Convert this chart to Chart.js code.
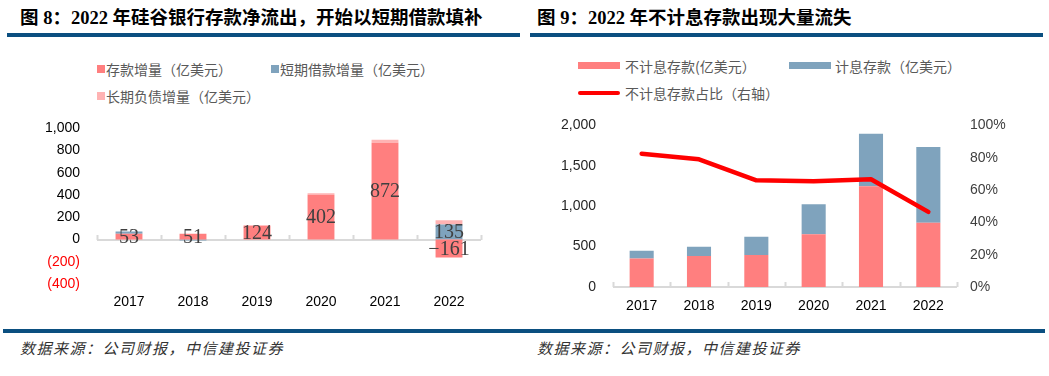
<!DOCTYPE html>
<html>
<head>
<meta charset="utf-8">
<script src="https://cdn.jsdelivr.net/npm/chart.js@4.4.0/dist/chart.umd.min.js"></script>
<style>
  body { margin: 0; width: 1049px; height: 376px; background: #fff; position: relative; overflow: hidden; font-family: "Noto Sans CJK SC", sans-serif; }
  .title { position: absolute; top: 8px; line-height: 20px; font-weight: bold; font-size: 18.5px; font-family: "Liberation Serif", "Noto Sans CJK SC", serif; color: #000; white-space: nowrap; }
  .rule { position: absolute; background: #0b4f80; height: 4px; }
  .src { position: absolute; top: 339px; line-height: 18px; font-style: italic; font-size: 15px; color: #333; white-space: nowrap; letter-spacing: 1.5px; }
  .leg { position: absolute; font-size: 14px; line-height: 16px; color: #595959; white-space: nowrap; }
  .mk { position: absolute; }
  .wrap { position: absolute; }
</style>
</head>
<body>

<div class="title" style="left:20px;">图 8：2022 年硅谷银行存款净流出，开始以短期借款填补</div>
<div class="title" style="left:537px;">图 9：2022 年不计息存款出现大量流失</div>
<div class="rule" style="left:7px; width:513px; top:33px;"></div>
<div class="rule" style="left:530px; width:513px; top:33px;"></div>

<!-- 左图图例 -->
<div class="mk" style="left:97px; top:65px; width:8px; height:8px; background:#ff7f7f;"></div>
<div class="leg" style="left:106px; top:61px;">存款增量（亿美元）</div>
<div class="mk" style="left:271px; top:65px; width:8px; height:8px; background:#7fa3bd;"></div>
<div class="leg" style="left:280px; top:61px;">短期借款增量（亿美元）</div>
<div class="mk" style="left:97px; top:92px; width:8px; height:8px; background:#ffb3b3;"></div>
<div class="leg" style="left:106px; top:88px;">长期负债增量（亿美元）</div>

<!-- 右图图例 -->
<div class="mk" style="left:578px; top:62px; width:42px; height:7px; background:#ff7f7f;"></div>
<div class="leg" style="left:625px; top:58px;">不计息存款(亿美元）</div>
<div class="mk" style="left:789px; top:62px; width:42px; height:7px; background:#7fa3bd;"></div>
<div class="leg" style="left:835px; top:58px;">计息存款（亿美元）</div>
<div class="mk" style="left:578px; top:91px; width:42px; height:4px; background:#ff0000; border-radius:2px;"></div>
<div class="leg" style="left:625px; top:85px;">不计息存款占比（右轴）</div>

<div class="wrap" style="left:0px; top:103px; width:500px; height:215px;"><canvas id="left"></canvas></div>
<div class="wrap" style="left:530px; top:100px; width:519px; height:221px;"><canvas id="right"></canvas></div>

<div class="rule" style="left:3px; width:1042px; top:329px; height:4px;"></div>
<div class="src" style="left:20px;">数据来源：公司财报，中信建投证券</div>
<div class="src" style="left:537px;">数据来源：公司财报，中信建投证券</div>

<script>
// 数据
const years = ['2017', '2018', '2019', '2020', '2021', '2022'];

// 图8 (亿美元)
const depositChange = [53, 51, 124, 402, 872, -161];
const shortBorrowChange = [20, -8, 0, 0, 0, 135];
const longDebtChange = [0, 0, 5, 15, 25, 38];
const leftTicks = [1000, 800, 600, 400, 200, 0, -200, -400];

// 图9 (亿美元 / %)
const nonInterestDeposits = [354, 383, 395, 654, 1247, 794];
const interestDeposits = [94, 115, 226, 371, 650, 938];
const nonInterestShare = [82.5, 79, 66, 65.4, 66.7, 46.5];

const tickFont = { family: 'Liberation Sans, Arial, sans-serif', size: 14 };

// 零轴线 + 向上的小刻度
const zeroAxis = {
    id: 'zeroAxis',
    beforeDatasetsDraw(chart) {
        const { ctx, chartArea, scales } = chart;
        const y = Math.round(scales.y.getPixelForValue(0));
        ctx.save();
        ctx.strokeStyle = '#d9d9d9';
        ctx.lineWidth = 2;
        ctx.beginPath();
        ctx.moveTo(chartArea.left, y);
        ctx.lineTo(chartArea.right, y);
        for (let i = 0; i <= years.length; i++) {
            const x = Math.round(scales.x.getPixelForValue(i - 0.5)) + 0.5;
            ctx.moveTo(x, y);
            ctx.lineTo(x, y - 5);
        }
        ctx.stroke();
        ctx.restore();
    }
};

// 柱内数值标签
const barLabels = {
    id: 'barLabels',
    afterDatasetsDraw(chart) {
        const { ctx } = chart;
        ctx.save();
        ctx.font = '20px "Liberation Serif", "Times New Roman", serif';
        ctx.fillStyle = '#404040';
        ctx.textAlign = 'center';
        ctx.textBaseline = 'middle';
        chart.data.datasets.forEach((ds, di) => {
            if (!ds.labelIdx) return;
            const meta = chart.getDatasetMeta(di);
            ds.labelIdx.forEach(i => {
                const bar = meta.data[i];
                const v = ds.data[i];
                const txt = v < 0 ? '\u2212' + Math.abs(v) : String(v);
                ctx.fillText(txt, bar.x, (bar.y + bar.base) / 2 + 1);
            });
        });
        ctx.restore();
    }
};

new Chart(document.getElementById('left'), {
    type: 'bar',
    data: {
        labels: years,
        datasets: [
            { label: '存款增量（亿美元）', data: depositChange, backgroundColor: '#ff7f7f', labelIdx: [0, 1, 2, 3, 4, 5] },
            { label: '短期借款增量（亿美元）', data: shortBorrowChange, backgroundColor: '#7fa3bd', labelIdx: [5] },
            { label: '长期负债增量（亿美元）', data: longDebtChange, backgroundColor: '#ffb3b3' }
        ]
    },
    options: {
        responsive: true,
        maintainAspectRatio: false,
        animation: false,
        categoryPercentage: 1,
        barPercentage: 0.42,
        layout: { padding: { top: 0, right: 19, bottom: 8, left: 0 } },
        plugins: { legend: { display: false }, tooltip: { enabled: false } },
        scales: {
            x: {
                stacked: true,
                grid: { display: false, drawTicks: false },
                border: { display: false },
                afterFit: axis => { axis.height = 26; },
                ticks: { color: '#000', font: tickFont, padding: 10, maxRotation: 0 }
            },
            y: {
                stacked: true,
                min: -400,
                max: 1000,
                afterBuildTicks: axis => { axis.ticks = leftTicks.map(v => ({ value: v })); },
                afterFit: axis => { axis.width = 97; },
                grid: { display: false, drawTicks: false },
                border: { display: false },
                ticks: {
                    autoSkip: false,
                    font: tickFont,
                    padding: 17,
                    color: c => (c.tick && c.tick.value < 0 ? '#ff0000' : '#000'),
                    callback: v => (v < 0 ? '(' + Math.abs(v) + ')' : v.toLocaleString('en-US'))
                }
            }
        }
    },
    plugins: [zeroAxis, barLabels]
});

new Chart(document.getElementById('right'), {
    type: 'bar',
    data: {
        labels: years,
        datasets: [
            { type: 'line', label: '不计息存款占比（右轴）', data: nonInterestShare, yAxisID: 'y1', borderColor: '#ff0000', borderWidth: 4.5, borderCapStyle: 'round', borderJoinStyle: 'round', pointRadius: 0, tension: 0, order: 0 },
            { label: '不计息存款(亿美元）', data: nonInterestDeposits, backgroundColor: '#ff7f7f', order: 1 },
            { label: '计息存款（亿美元）', data: interestDeposits, backgroundColor: '#7fa3bd', order: 1 }
        ]
    },
    options: {
        responsive: true,
        maintainAspectRatio: false,
        animation: false,
        categoryPercentage: 1,
        barPercentage: 0.42,
        layout: { padding: { top: 0, right: 0, bottom: 8, left: 0 } },
        plugins: { legend: { display: false }, tooltip: { enabled: false } },
        scales: {
            x: {
                stacked: true,
                grid: { display: false, drawTicks: false },
                border: { display: false },
                afterFit: axis => { axis.height = 26; },
                ticks: { color: '#000', font: tickFont, padding: 11, maxRotation: 0 }
            },
            y: {
                stacked: true,
                min: 0,
                max: 2000,
                afterFit: axis => { axis.width = 83; },
                grid: { display: false, drawTicks: false },
                border: { display: false },
                ticks: { stepSize: 500, font: tickFont, padding: 17, color: '#262626', callback: v => v.toLocaleString('en-US') }
            },
            y1: {
                position: 'right',
                min: 0,
                max: 100,
                afterFit: axis => { axis.width = 92; },
                grid: { display: false, drawTicks: false },
                border: { display: false },
                ticks: { stepSize: 20, font: tickFont, padding: 13, color: '#404040', callback: v => v + '%' }
            }
        }
    },
    plugins: [zeroAxis]
});
</script>
</body>
</html>
